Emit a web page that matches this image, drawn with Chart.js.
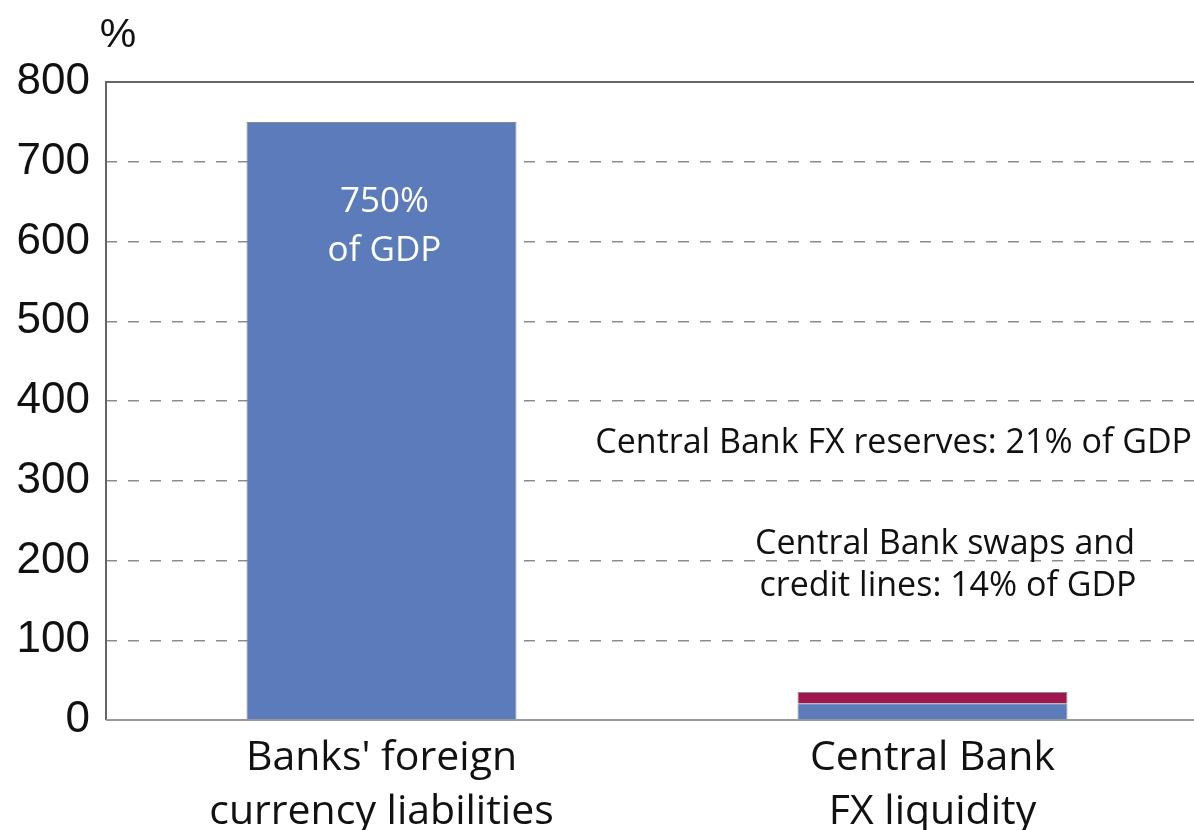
<!DOCTYPE html>
<html>
<head>
<meta charset="utf-8">
<script src="https://cdn.jsdelivr.net/npm/chart.js@4.4.0/dist/chart.umd.min.js"></script>
<style>
  html, body { margin: 0; padding: 0; background: #fff; overflow: hidden; }
  #wrap { position: relative; width: 1208px; height: 830px; }
</style>
</head>
<body>
<div id="wrap"><canvas id="myChart"></canvas></div>
<script>
// data (% of GDP)
var categories = [["Banks' foreign", "currency liabilities"], ["Central Bank", "FX liquidity"]];
var liabilitiesAndReserves = [750, 21];
var swapsAndCreditLines = [null, 14];
var yTicks = [0, 100, 200, 300, 400, 500, 600, 700, 800];

var blue = "#5b7bba";
var purple = "#a0174f";
var labelFont = "'Open Sans', Lato, sans-serif";
var numFont = "'Liberation Sans', Arial, sans-serif";

// frame, unit and the text notes
var notesPlugin = {
  id: "notes",
  beforeDatasetsDraw: function(chart) {
    var ctx = chart.ctx;
    var a = chart.chartArea;
    ctx.save();
    ctx.strokeStyle = "#666";
    ctx.lineWidth = 2;
    ctx.beginPath();
    ctx.moveTo(a.right + 5, a.top);
    ctx.lineTo(a.left, a.top);
    ctx.lineTo(a.left, a.bottom);
    ctx.stroke();
    ctx.strokeStyle = "#999";
    ctx.beginPath();
    ctx.moveTo(a.left, a.bottom);
    ctx.lineTo(a.right + 5, a.bottom);
    ctx.stroke();
    ctx.restore();
  },
  afterDatasetsDraw: function(chart) {
    var ctx = chart.ctx;
    var x = chart.scales.x;
    var y = chart.scales.y;
    ctx.save();
    ctx.fillStyle = "#111";
    ctx.textBaseline = "middle";
    ctx.textAlign = "center";
    ctx.font = "41px " + numFont;
    ctx.fillText("%", 118, 36);

    ctx.fillStyle = "#ffffff";
    ctx.font = "35px " + labelFont;
    ctx.fillText("750%", x.getPixelForValue(0) + 3, y.getPixelForValue(650));
    ctx.fillText("of GDP", x.getPixelForValue(0) + 3, y.getPixelForValue(588));

    ctx.fillStyle = "#111";
    ctx.font = "34px " + labelFont;
    ctx.textAlign = "right";
    ctx.fillText("Central Bank FX reserves: 21% of GDP", 1192, y.getPixelForValue(347));
    ctx.textAlign = "center";
    ctx.fillText("Central Bank swaps and", 945, y.getPixelForValue(220));
    ctx.fillText("credit lines: 14% of GDP", 948, y.getPixelForValue(168));
    ctx.restore();
  }
};

var ctx = document.getElementById("myChart").getContext("2d");
var myChart = new Chart(ctx, {
  type: "bar",
  data: {
    labels: categories,
    datasets: [{
      label: "Liabilities / FX reserves",
      data: liabilitiesAndReserves,
      backgroundColor: blue,
      borderColor: "#8a8a8a",
      borderWidth: 1,
      barPercentage: 0.49,
      categoryPercentage: 1
    }, {
      label: "Swaps and credit lines",
      data: swapsAndCreditLines,
      backgroundColor: purple,
      borderColor: "#8a8a8a",
      borderWidth: 1,
      barPercentage: 0.49,
      categoryPercentage: 1
    }]
  },
  options: {
    responsive: true,
    maintainAspectRatio: false,
    animation: false,
    layout: { padding: { top: 82, left: 0, right: 0, bottom: 0 } },
    plugins: {
      legend: { display: false },
      tooltip: { enabled: false }
    },
    scales: {
      x: {
        stacked: true,
        grid: { display: false, drawTicks: false },
        border: { display: false },
        ticks: {
          color: "#111",
          padding: 12,
          font: { family: labelFont, size: 41, lineHeight: 1.3 }
        },
        afterFit: function(scale) { scale.height = 110; }
      },
      y: {
        stacked: true,
        min: 0,
        max: 800,
        afterBuildTicks: function(scale) {
          scale.ticks = yTicks.map(function(v) { return { value: v }; });
        },
        grid: {
          drawTicks: false,
          lineWidth: 1.5,
          color: function(c) {
            var v = c.tick ? c.tick.value : 0;
            return (v === 0 || v === 800) ? "rgba(0,0,0,0)" : "#8c8c8c";
          }
        },
        border: { display: false, dash: [11, 11] },
        ticks: {
          color: "#111",
          padding: 16,
          font: { family: numFont, size: 44 }
        },
        afterFit: function(scale) { scale.width = 106; }
      }
    }
  },
  plugins: [notesPlugin]
});
</script>
</body>
</html>
